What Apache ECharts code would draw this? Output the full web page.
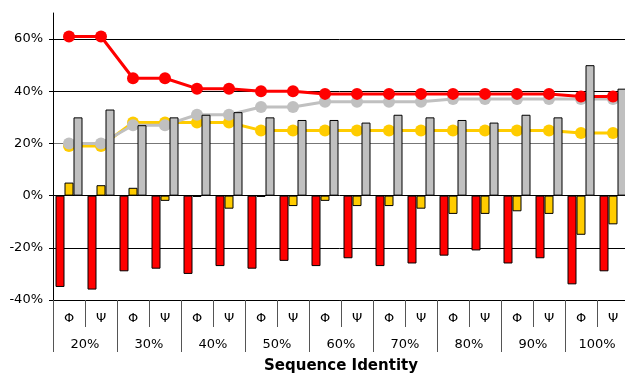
<!DOCTYPE html>
<html>
<head>
<meta charset="utf-8">
<script src="https://cdn.jsdelivr.net/npm/echarts@6/dist/echarts.min.js"></script>
<style>
  html, body { margin: 0; padding: 0; background: #fff; }
  #chart { width: 625px; height: 374px; }
</style>
</head>
<body>
<div id="chart"></div>
<script>
// Sequence-identity bins, each split into Φ and Ψ angles
const groups = ['20%', '30%', '40%', '50%', '60%', '70%', '80%', '90%', '100%'];
const angles = ['Φ', 'Ψ'];
const categories = groups.flatMap(() => angles);

// Y-axis tick values (percent)
const yTicks = [-40, -20, 0, 20, 40, 60];

// Bar series (percent)
const redBars    = [-35, -36, -29, -28, -30, -27, -28, -25, -27, -24, -27, -26, -23, -21, -26, -24, -34, -29];
const yellowBars = [5, 4, 3, -2, -0.5, -5, -0.5, -4, -2, -4, -4, -5, -7, -7, -6, -7, -15, -11];
const grayBars   = [30, 33, 27, 30, 31, 32, 30, 29, 29, 28, 31, 30, 29, 28, 31, 30, 50, 41];

// Line series (percent)
const redLine    = [61, 61, 45, 45, 41, 41, 40, 40, 39, 39, 39, 39, 39, 39, 39, 39, 38, 38];
const yellowLine = [19, 19, 28, 28, 28, 28, 25, 25, 25, 25, 25, 25, 25, 25, 25, 25, 24, 24];
const grayLine   = [20, 20, 27, 27, 31, 31, 34, 34, 36, 36, 36, 36, 37, 37, 37, 37, 37, 37];

const RED = '#ff0000', YELLOW = '#ffcc00', GRAY = '#c0c0c0';
const FONT = 'DejaVu Sans';

function barSeries(data, color) {
  return {
    type: 'bar', data, xAxisIndex: 0, barWidth: 9, barGap: '0%', z: 3,
    itemStyle: { color, borderColor: '#000', borderWidth: 1 }
  };
}
function lineSeries(data, color) {
  return {
    type: 'line', data, xAxisIndex: 0, z: 2,
    symbol: 'circle', symbolSize: 12,
    lineStyle: { color, width: 3 },
    itemStyle: { color }
  };
}

const chart = echarts.init(document.getElementById('chart'), null, { renderer: 'canvas' });
chart.setOption({
  animation: false,
  grid: { left: 53, top: 13, right: -4, bottom: 74, containLabel: false, outerBoundsMode: 'none' },
  xAxis: [
    {
      type: 'category', data: categories, position: 'bottom',
      axisLine: { show: true, onZero: false, lineStyle: { color: '#000', width: 1 } },
      axisTick: { show: true, interval: 0, length: 27, lineStyle: { color: '#555' } },
      axisLabel: { interval: 0, margin: 12, color: '#000', fontFamily: FONT, fontSize: 13 },
      splitLine: { show: false }
    },
    {
      type: 'category', data: groups, position: 'bottom',
      axisLine: { show: false, onZero: false },
      axisTick: { show: true, interval: 0, length: 52, lineStyle: { color: '#555' } },
      axisLabel: { interval: 0, margin: 38, color: '#000', fontFamily: FONT, fontSize: 13 },
      splitLine: { show: false },
      name: 'Sequence Identity', nameLocation: 'middle', nameGap: 59,
      nameTextStyle: { color: '#000', fontFamily: FONT, fontSize: 15, fontWeight: 'bold' }
    }
  ],
  yAxis: {
    type: 'value', min: -40, max: 70, interval: 20,
    axisLine: { show: true, lineStyle: { color: '#000' } },
    axisTick: { show: true, length: 4, customValues: yTicks, lineStyle: { color: '#000' } },
    axisLabel: {
      margin: 10, color: '#000', fontFamily: FONT, fontSize: 13,
      customValues: yTicks,
      formatter: v => v + '%'
    },
    splitLine: {
      show: true,
      lineStyle: { color: ['#000', '#000', '#000', '#777', '#000', '#000', '#666'], width: 1 }
    }
  },
  series: [
    lineSeries(yellowLine, YELLOW),
    lineSeries(grayLine, GRAY),
    lineSeries(redLine, RED),
    barSeries(redBars, RED),
    barSeries(yellowBars, YELLOW),
    barSeries(grayBars, GRAY)
  ]
});
</script>
</body>
</html>
